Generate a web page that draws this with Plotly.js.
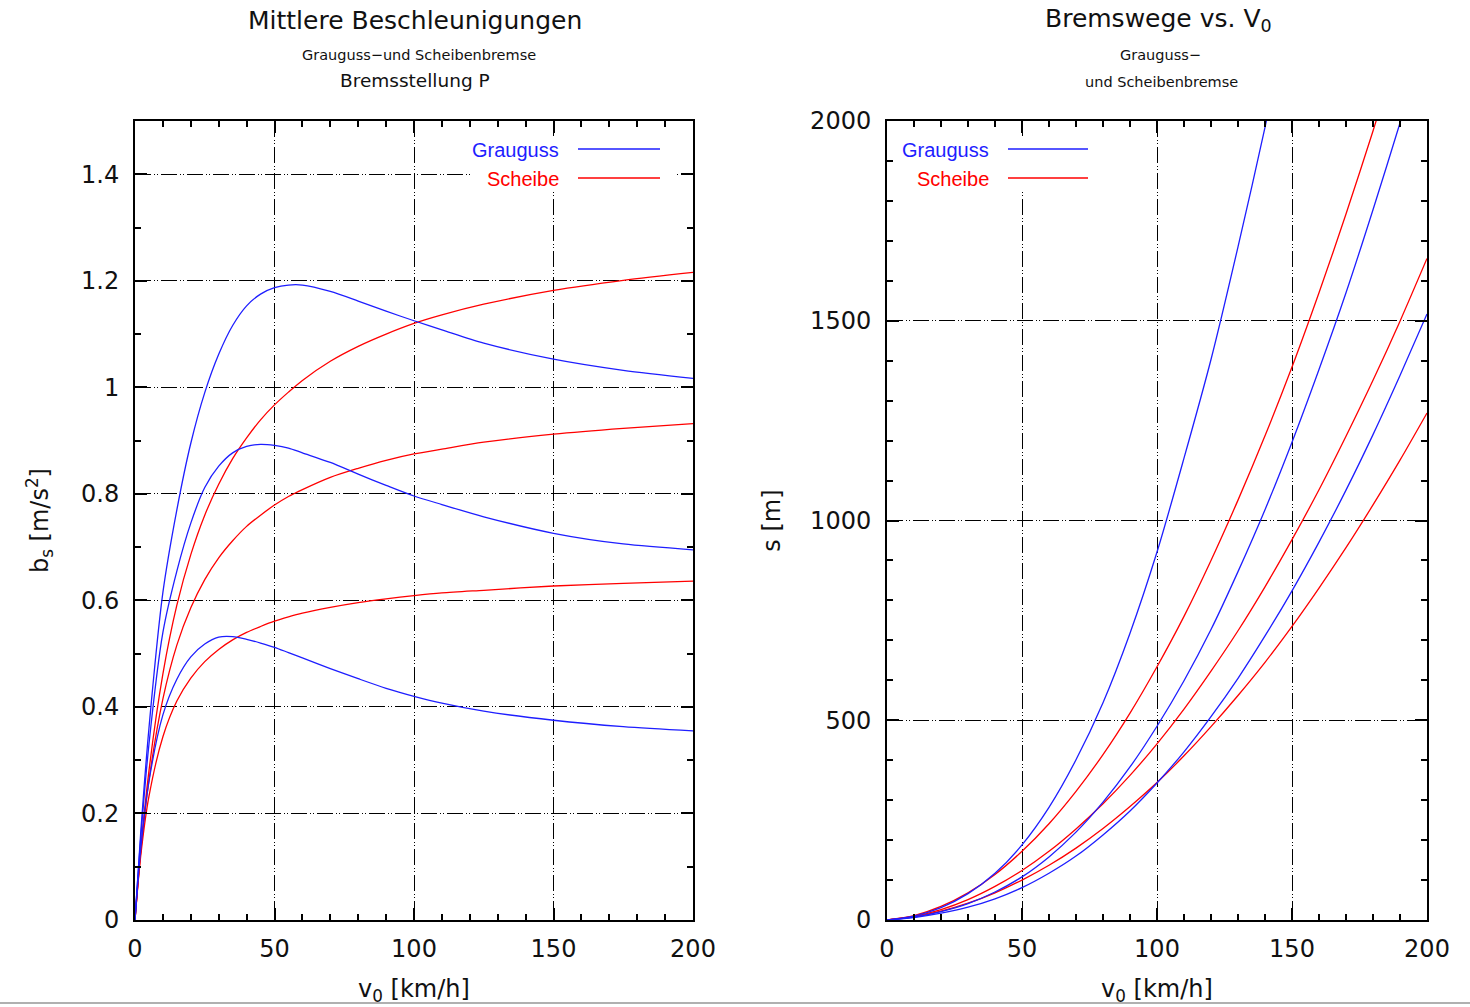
<!DOCTYPE html>
<html>
<head>
<meta charset="utf-8">
<script src="https://cdn.plot.ly/plotly-3.0.1.min.js"></script>
<style>html,body{margin:0;padding:0;background:#fff;}#chart{width:1470px;height:1007px;}</style>
</head>
<body>
<div id="chart"></div>
<script>
// ---- Left chart: mean decelerations b_s [m/s^2] vs v0 [km/h] ----
const vLeft = [0, 2, 5, 10, 15, 20, 25, 30, 35, 40, 45, 50, 55, 60, 70, 80, 90, 100, 110, 125, 150, 175, 200];
const bGrauguss1 = [0, 0.16, 0.36, 0.615, 0.77, 0.895, 0.99, 1.062, 1.116, 1.153, 1.175, 1.187, 1.192, 1.192, 1.18, 1.162, 1.143, 1.125, 1.108, 1.083, 1.053, 1.032, 1.017];
const bGrauguss2 = [0, 0.15, 0.33, 0.54, 0.655, 0.745, 0.812, 0.852, 0.877, 0.889, 0.893, 0.891, 0.886, 0.877, 0.859, 0.837, 0.816, 0.796, 0.78, 0.757, 0.726, 0.706, 0.695];
const bGrauguss3 = [0, 0.13, 0.26, 0.385, 0.452, 0.494, 0.518, 0.531, 0.532, 0.527, 0.52, 0.512, 0.502, 0.492, 0.472, 0.453, 0.435, 0.42, 0.407, 0.392, 0.375, 0.363, 0.355];
const bScheibe1 = [0, 0.128, 0.28, 0.462, 0.591, 0.686, 0.76, 0.818, 0.866, 0.905, 0.939, 0.967, 0.991, 1.013, 1.049, 1.077, 1.1, 1.12, 1.136, 1.156, 1.182, 1.201, 1.216];
const bScheibe2 = [0, 0.125, 0.262, 0.415, 0.516, 0.586, 0.639, 0.68, 0.712, 0.739, 0.76, 0.779, 0.795, 0.808, 0.831, 0.848, 0.863, 0.875, 0.884, 0.897, 0.912, 0.923, 0.932];
const bScheibe3 = [0, 0.118, 0.232, 0.344, 0.411, 0.454, 0.485, 0.508, 0.526, 0.54, 0.551, 0.561, 0.569, 0.576, 0.587, 0.596, 0.603, 0.609, 0.614, 0.619, 0.627, 0.632, 0.636];

// ---- Right chart: braking distances s [m] vs v0 [km/h] ----
const vRight = [0, 10, 20, 30, 40, 50, 60, 70, 80, 90, 100, 110, 120, 130, 140, 150, 160, 170, 180, 190, 200];
const sGrauguss1 = [0, 10, 31, 66, 117, 188, 282, 401, 544, 718, 921, 1156, 1403, 1685, 1984, 2315];
const sGrauguss2 = [0, 7, 21, 41, 70, 108, 158, 220, 295, 383, 485, 599, 727, 872, 1027, 1196, 1378, 1570, 1778, 1995, 2220];
const sGrauguss3 = [0, 6, 17, 32, 53, 81, 117, 160, 213, 273, 343, 421, 509, 605, 711, 824, 946, 1076, 1215, 1363, 1517];
const sScheibe1 = [0, 11, 34, 68, 114, 172, 241, 322, 414, 518, 634, 760, 900, 1051, 1212, 1384, 1570, 1767, 1975, 2193];
const sScheibe2 = [0, 9, 26, 51, 84, 124, 172, 228, 291, 362, 441, 528, 623, 724, 834, 952, 1077, 1211, 1351, 1499, 1656];
const sScheibe3 = [0, 8, 22, 42, 68, 100, 137, 180, 229, 284, 344, 411, 484, 562, 645, 735, 831, 932, 1039, 1151, 1269];

const legendLabels = ['Grauguss', 'Scheibe'];

const BLUE = 'rgb(30,30,255)';
const RED = 'rgb(255,0,0)';
const LW = 1.3;

function tr(x, y, color, xa, ya, name) {
  return {x: x, y: y, type: 'scatter', mode: 'lines', name: name,
    line: {color: color, width: LW, shape: 'spline', smoothing: 0.8},
    xaxis: xa, yaxis: ya, showlegend: false, hoverinfo: 'x+y'};
}

const data = [
  tr(vLeft, bScheibe1, RED, 'x', 'y', 'Scheibe'),
  tr(vLeft, bScheibe2, RED, 'x', 'y', 'Scheibe'),
  tr(vLeft, bScheibe3, RED, 'x', 'y', 'Scheibe'),
  tr(vLeft, bGrauguss1, BLUE, 'x', 'y', 'Grauguss'),
  tr(vLeft, bGrauguss2, BLUE, 'x', 'y', 'Grauguss'),
  tr(vLeft, bGrauguss3, BLUE, 'x', 'y', 'Grauguss'),
  tr(vRight.slice(0, sScheibe1.length), sScheibe1, RED, 'x2', 'y2', 'Scheibe'),
  tr(vRight, sScheibe2, RED, 'x2', 'y2', 'Scheibe'),
  tr(vRight, sScheibe3, RED, 'x2', 'y2', 'Scheibe'),
  tr(vRight.slice(0, sGrauguss1.length), sGrauguss1, BLUE, 'x2', 'y2', 'Grauguss'),
  tr(vRight, sGrauguss2, BLUE, 'x2', 'y2', 'Grauguss'),
  tr(vRight, sGrauguss3, BLUE, 'x2', 'y2', 'Grauguss')
];

const TICKFONT = {family: 'DejaVu Sans, sans-serif', size: 24, color: '#111'};
const TITLEFONT = {family: 'DejaVu Sans, sans-serif', size: 24, color: '#111'};
const GRIDDASH = '16px,3px,1px,2px,1px,3px';

function axis(domain, range, dtick, minorDtick, anchor, title, standoff, labelOff) {
  return {
    domain: domain, range: range, dtick: dtick, tick0: 0, anchor: anchor,
    showline: true, linecolor: '#000', linewidth: 2, mirror: 'allticks',
    ticks: 'inside', ticklen: 12, tickwidth: 1.5, tickcolor: '#000',
    showgrid: true, gridcolor: '#000', gridwidth: 1.2, griddash: GRIDDASH,
    zeroline: false, tickfont: TICKFONT, fixedrange: true,
    ticklabelstandoff: labelOff,
    minor: {dtick: minorDtick, tick0: 0, ticks: 'inside', ticklen: 6, tickwidth: 1.5, tickcolor: '#000', showgrid: false},
    title: {text: title, font: TITLEFONT, standoff: standoff},
    automargin: false
  };
}

const xL0 = 135/1470, xL1 = 693/1470, xR0 = 887/1470, xR1 = 1427/1470;
const yB = 1 - 920/1007, yT = 1 - 121/1007;

function lx(px) { return (px - 135) / 558; }
function rx(px) { return (px - 887) / 540; }
function py(px) { return (920 - px) / 799; }

const layout = {
  width: 1470, height: 1007,
  margin: {l: 0, r: 0, t: 0, b: 0},
  paper_bgcolor: '#fff', plot_bgcolor: '#fff',
  showlegend: false,
  xaxis: axis([xL0, xL1], [0, 200], 50, 10, 'y', 'v<sub>0</sub> [km/h]', 18, 6),
  yaxis: axis([yB, yT], [0, 1.5], 0.2, 0.1, 'x', 'b<sub>s</sub> [m/s<sup>2</sup>]', 26, 9),
  xaxis2: axis([xR0, xR1], [0, 200], 50, 10, 'y2', 'v<sub>0</sub> [km/h]', 18, 6),
  yaxis2: axis([yB, yT], [0, 2000], 500, 100, 'x2', 's [m]', 23, 9),
  annotations: [
    {text: 'Mittlere Beschleunigungen', xref: 'paper', yref: 'paper', x: 415/1470, y: 1 - 20/1007, xanchor: 'center', yanchor: 'middle', showarrow: false,
     font: {family: 'DejaVu Sans, sans-serif', size: 25, color: '#111'}},
    {text: 'Grauguss\u2212und Scheibenbremse', xref: 'paper', yref: 'paper', x: 419/1470, y: 1 - 55/1007, xanchor: 'center', yanchor: 'middle', showarrow: false,
     font: {family: 'DejaVu Sans, sans-serif', size: 14.5, color: '#111'}},
    {text: 'Bremsstellung P', xref: 'paper', yref: 'paper', x: 415/1470, y: 1 - 80/1007, xanchor: 'center', yanchor: 'middle', showarrow: false,
     font: {family: 'DejaVu Sans, sans-serif', size: 18.5, color: '#111'}},
    {text: 'Bremswege vs. V<sub>0</sub>', xref: 'paper', yref: 'paper', x: 1158/1470, y: 1 - 20/1007, xanchor: 'center', yanchor: 'middle', showarrow: false,
     font: {family: 'DejaVu Sans, sans-serif', size: 25, color: '#111'}},
    {text: 'Grauguss\u2212', xref: 'paper', yref: 'paper', x: 1160/1470, y: 1 - 55/1007, xanchor: 'center', yanchor: 'middle', showarrow: false,
     font: {family: 'DejaVu Sans, sans-serif', size: 14.5, color: '#111'}},
    {text: 'und Scheibenbremse', xref: 'paper', yref: 'paper', x: 1161/1470, y: 1 - 82/1007, xanchor: 'center', yanchor: 'middle', showarrow: false,
     font: {family: 'DejaVu Sans, sans-serif', size: 14.5, color: '#111'}},
    // legends (gnuplot style: text left of sample)
    {text: legendLabels[0], xref: 'x domain', yref: 'y domain', x: lx(561), y: py(150), xanchor: 'right', yanchor: 'middle', showarrow: false,
     font: {family: 'Liberation Sans, Arial, sans-serif', size: 20, color: BLUE}},
    {text: legendLabels[1], xref: 'x domain', yref: 'y domain', x: lx(561), y: py(179), xanchor: 'right', yanchor: 'middle', showarrow: false,
     font: {family: 'Liberation Sans, Arial, sans-serif', size: 20, color: RED}},
    {text: legendLabels[0], xref: 'x2 domain', yref: 'y2 domain', x: rx(991), y: py(150), xanchor: 'right', yanchor: 'middle', showarrow: false,
     font: {family: 'Liberation Sans, Arial, sans-serif', size: 20, color: BLUE}},
    {text: legendLabels[1], xref: 'x2 domain', yref: 'y2 domain', x: rx(991), y: py(179), xanchor: 'right', yanchor: 'middle', showarrow: false,
     font: {family: 'Liberation Sans, Arial, sans-serif', size: 20, color: RED}}
  ],
  shapes: [
    // opaque key boxes covering the grid (no curves pass through these regions)
    {type: 'rect', layer: 'above', xref: 'x domain', yref: 'y domain', x0: lx(470), x1: lx(676), y0: py(192), y1: py(136), fillcolor: '#fff', line: {width: 0}},
    {type: 'rect', layer: 'above', xref: 'x2 domain', yref: 'y2 domain', x0: rx(895), x1: rx(1096), y0: py(192), y1: py(136), fillcolor: '#fff', line: {width: 0}},
    {type: 'line', layer: 'above', xref: 'x domain', yref: 'y domain', x0: lx(578), x1: lx(660), y0: py(149), y1: py(149), line: {color: BLUE, width: LW}},
    {type: 'line', layer: 'above', xref: 'x domain', yref: 'y domain', x0: lx(578), x1: lx(660), y0: py(178), y1: py(178), line: {color: RED, width: LW}},
    {type: 'line', layer: 'above', xref: 'x2 domain', yref: 'y2 domain', x0: rx(1008), x1: rx(1088), y0: py(149), y1: py(149), line: {color: BLUE, width: LW}},
    {type: 'line', layer: 'above', xref: 'x2 domain', yref: 'y2 domain', x0: rx(1008), x1: rx(1088), y0: py(178), y1: py(178), line: {color: RED, width: LW}},
    {type: 'line', xref: 'paper', yref: 'paper', x0: 0, x1: 1, y0: 1 - 1003/1007, y1: 1 - 1003/1007, line: {color: '#b0b0b0', width: 2}}
  ]
};

Plotly.newPlot('chart', data, layout, {displayModeBar: false, responsive: false});
</script>
</body>
</html>
